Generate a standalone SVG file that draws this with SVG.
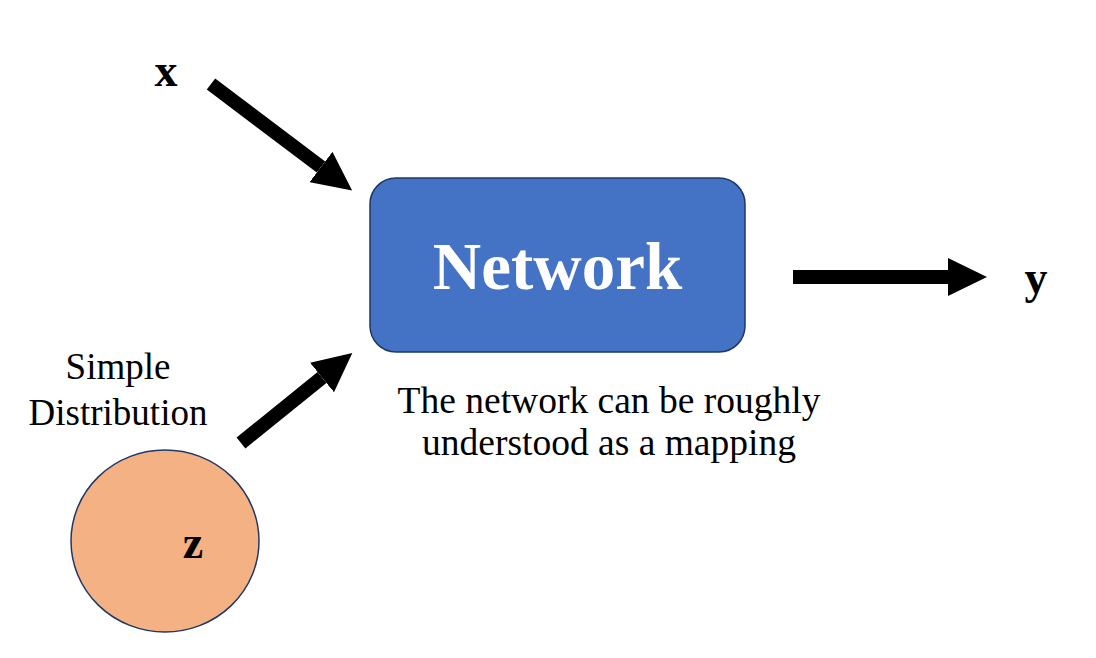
<svg xmlns="http://www.w3.org/2000/svg" width="1096" height="658" viewBox="0 0 1096 658">
  <defs>
    <style>
      .serif { font-family: "Liberation Serif", "Times New Roman", serif; }
      .var { font-size: 46px; font-weight: bold; fill: #000; }
      .label { font-size: 37px; fill: #000; }
      .caption { font-size: 37.5px; fill: #000; }
      .shaft { stroke: #000; stroke-width: 14; fill: none; stroke-linecap: butt; marker-end: url(#head); }
    </style>
    <marker id="head" viewBox="0 0 39 38" markerWidth="39" markerHeight="38" refX="0" refY="19" orient="auto" markerUnits="userSpaceOnUse">
      <path d="M0,0 L39,19 L0,38 Z" fill="#000"/>
    </marker>
  </defs>
  <rect width="1096" height="658" fill="#fff"/>

  <g id="connectors">
    <line class="shaft" x1="211" y1="84" x2="321" y2="167"/>
    <line class="shaft" x1="241" y1="443" x2="322" y2="377.5"/>
    <line class="shaft" x1="793" y1="277" x2="948" y2="277"/>
  </g>

  <g id="input-x">
    <text class="serif var" x="166" y="86" text-anchor="middle">x</text>
  </g>

  <g id="network">
    <rect x="370" y="178" width="375" height="174" rx="26" ry="26" fill="#4472C4" stroke="#1F3864" stroke-width="1.5"/>
    <text class="serif" x="557.5" y="289" text-anchor="middle" font-size="67" font-weight="bold" fill="#fff">Network</text>
  </g>

  <g id="caption">
    <text class="serif caption" x="609" y="413" text-anchor="middle">The network can be roughly</text>
    <text class="serif caption" x="609" y="455" text-anchor="middle">understood as a mapping</text>
  </g>

  <g id="output-y">
    <text class="serif var" x="1036" y="293" text-anchor="middle">y</text>
  </g>

  <g id="distribution-label">
    <text class="serif label" x="118" y="379" text-anchor="middle">Simple</text>
    <text class="serif label" x="118" y="425" text-anchor="middle">Distribution</text>
  </g>

  <g id="latent-z">
    <ellipse cx="165" cy="541" rx="94" ry="91" fill="#F4B183" stroke="#1F3864" stroke-width="1.5"/>
    <text class="serif var" x="193" y="558" text-anchor="middle">z</text>
  </g>
</svg>
